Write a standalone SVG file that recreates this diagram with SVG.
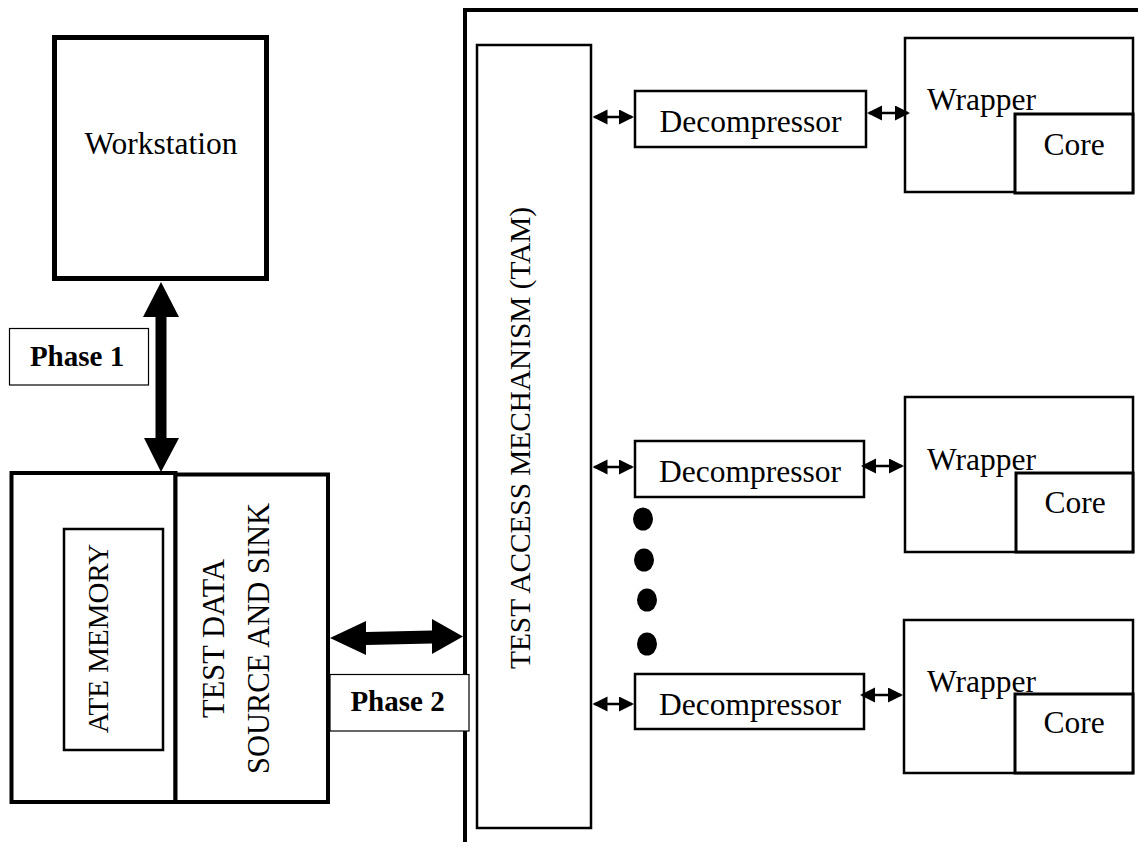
<svg xmlns="http://www.w3.org/2000/svg" width="1138" height="842" viewBox="0 0 1138 842">
<style>
.t{font-family:"Liberation Serif","Times New Roman",serif;fill:#000}
.b{fill:#fff;stroke:#000}
.c{text-anchor:middle}
.bold{font-weight:bold}
.sm{stroke:#000;stroke-width:2.5;fill:none;marker-start:url(#ah);marker-end:url(#ah)}
</style>
<defs>
<marker id="ah" markerUnits="userSpaceOnUse" markerWidth="16" markerHeight="16" refX="13" refY="7.5" orient="auto-start-reverse" viewBox="0 0 16 16">
<path d="M0,0 L15,7.5 L0,15 Z" fill="#000"/>
</marker>
</defs>
<rect width="1138" height="842" fill="#fff"/>

<g id="soc-container">
<path d="M465,842 V10 H1138" fill="none" stroke="#000" stroke-width="4"/>
</g>

<g id="workstation">
<rect class="b" x="54.5" y="37.5" width="212" height="241" stroke-width="5"/>
<text class="t c" x="161" y="154" font-size="31.5">Workstation</text>
</g>

<g id="ate-memory-box">
<rect class="b" x="11.5" y="473" width="164" height="329" stroke-width="4"/>
<rect class="b" x="64" y="529" width="99" height="221" stroke-width="2.5"/>
<text class="t c" transform="translate(108,638.5) rotate(-90)" font-size="29">ATE MEMORY</text>
</g>

<g id="test-data-source-sink">
<rect class="b" x="175.5" y="474.5" width="152.5" height="327.5" stroke-width="4"/>
<text class="t c" transform="translate(224,638.5) rotate(-90)" font-size="30.5">TEST DATA</text>
<text class="t c" transform="translate(269,638.5) rotate(-90)" font-size="30.5">SOURCE AND SINK</text>
</g>

<g id="phase1-label">
<rect class="b" x="9.5" y="328.5" width="139" height="56.5" stroke-width="1.2"/>
<text class="t c bold" x="77" y="366" font-size="29">Phase 1</text>
</g>

<g id="phase2-label">
<rect class="b" x="330" y="674.5" width="139" height="56.5" stroke-width="1.2"/>
<text class="t c bold" x="397.5" y="711" font-size="29">Phase 2</text>
</g>

<g id="tam">
<rect class="b" x="477" y="45" width="114" height="783" stroke-width="2.5"/>
<text class="t c" transform="translate(530,438) rotate(-90)" font-size="29.3">TEST ACCESS MECHANISM (TAM)</text>
</g>

<g id="decompressor-1">
<rect class="b" x="635" y="91" width="231" height="56" stroke-width="2.5"/>
<text class="t c" x="750.5" y="132" font-size="31.5">Decompressor</text>
</g>
<g id="decompressor-2">
<rect class="b" x="635" y="441" width="229" height="56" stroke-width="2.5"/>
<text class="t c" x="750" y="482" font-size="31.5">Decompressor</text>
</g>
<g id="decompressor-3">
<rect class="b" x="635" y="674" width="229" height="55" stroke-width="2.5"/>
<text class="t c" x="750" y="715" font-size="31.5">Decompressor</text>
</g>

<g id="wrapper-1">
<rect class="b" x="905" y="38" width="228" height="154" stroke-width="2.5"/>
<text class="t" x="927" y="110" font-size="31.5">Wrapper</text>
</g>
<g id="core-1">
<rect class="b" x="1015" y="114" width="118" height="79" stroke-width="3"/>
<text class="t c" x="1074" y="155" font-size="31.5">Core</text>
</g>
<g id="wrapper-2">
<rect class="b" x="905" y="397" width="228" height="155" stroke-width="2.5"/>
<text class="t" x="927" y="470" font-size="31.5">Wrapper</text>
</g>
<g id="core-2">
<rect class="b" x="1016" y="473" width="117" height="79" stroke-width="3"/>
<text class="t c" x="1075" y="513" font-size="31.5">Core</text>
</g>
<g id="wrapper-3">
<rect class="b" x="904" y="620" width="229" height="153" stroke-width="2.5"/>
<text class="t" x="927" y="692" font-size="31.5">Wrapper</text>
</g>
<g id="core-3">
<rect class="b" x="1015" y="694" width="118" height="79" stroke-width="3"/>
<text class="t c" x="1074" y="733" font-size="31.5">Core</text>
</g>

<g id="ellipsis">
<ellipse cx="643" cy="519" rx="10" ry="11.5"/>
<ellipse cx="644" cy="560" rx="10" ry="11.5"/>
<ellipse cx="647" cy="600" rx="10" ry="11.5"/>
<ellipse cx="647" cy="644" rx="10" ry="11.5"/>
</g>

<g id="connectors">
<path id="phase1-arrow" d="M161,282 L179,317 L166.5,317 L166.5,438 L179,438 L161,472 L144,438 L155.5,438 L155.5,317 L143,317 Z" fill="#000"/>
<path id="phase2-arrow" d="M330,638 L366,621 L366,632 L432,630.5 L432,619 L463,636.5 L432,654 L432,643.5 L366,645 L366,655 Z" fill="#000"/>
<line class="sm" x1="594.5" y1="117" x2="632" y2="117"/>
<line class="sm" x1="869" y1="113" x2="908" y2="113"/>
<line class="sm" x1="594.5" y1="467" x2="632" y2="467"/>
<line class="sm" x1="863" y1="466" x2="902" y2="466"/>
<line class="sm" x1="594.5" y1="704" x2="632" y2="704"/>
<line class="sm" x1="862" y1="695" x2="901" y2="695"/>
</g>
</svg>
